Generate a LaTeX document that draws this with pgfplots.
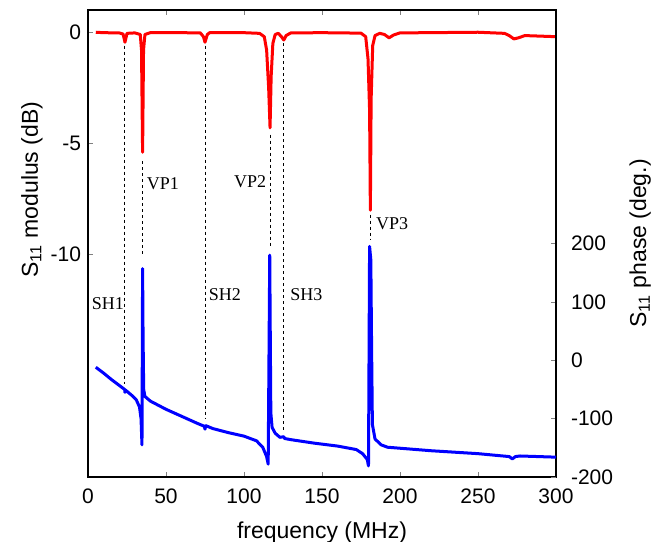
\documentclass[border=0pt]{standalone}
\usepackage{fontspec}
\setmainfont{Liberation Sans}
\newfontfamily\timesfont{Liberation Serif}
\usepackage{pgfplots}
\pgfplotsset{compat=1.18}
\begin{document}
\begin{tikzpicture}
\pgfplotsset{
  every axis/.append style={
    scale only axis, width=234pt, height=233.5pt,
    xmin=0, xmax=300,
    tick align=inside, major tick length=2.5pt,
    tick label style={font=\fontsize{10.5}{12}\selectfont},
    label style={font=\fontsize{11.5}{13}\selectfont},
    /pgf/number format/assume math mode=true,
    axis line style={line width=0.6pt},
  },
}
\begin{axis}[name=mag,
  ymin=-20, ymax=1,
  xtick={0,50,...,300}, xtick pos=both,
  xticklabel style={yshift=-2.5pt},
  ytick={-10,-5,0}, ytick pos=left,
  xlabel={frequency (MHz)},
  xlabel style={at={(axis description cs:0.5,-0.118)}, anchor=center},
  ylabel={S\textsubscript{11} modulus (dB)},
  ylabel style={at={(axis description cs:-0.12,0.615)}, anchor=center},
]
% vertical markers
\addplot[black, line width=0.5pt, dash pattern=on 1.5pt off 1.5pt] coordinates {(23.7,-0.6) (23.7,-15.8)};
\addplot[black, line width=0.5pt, dash pattern=on 1.5pt off 1.5pt] coordinates {(35,-5.8) (35,-10.1)};
\addplot[black, line width=0.5pt, dash pattern=on 1.5pt off 1.5pt] coordinates {(75,-0.6) (75,-17.4)};
\addplot[black, line width=0.5pt, dash pattern=on 1.5pt off 1.5pt] coordinates {(116.7,-4.6) (116.7,-9.7)};
\addplot[black, line width=0.5pt, dash pattern=on 1.5pt off 1.5pt] coordinates {(125.5,-0.5) (125.5,-17.9)};
\addplot[black, line width=0.5pt, dash pattern=on 1.5pt off 1.5pt] coordinates {(181,-8.2) (181,-9.3)};
% S11 modulus
\addplot[red, line width=1.5pt, line join=round] coordinates {
(5,0) (10,-0.02) (20,-0.03) (22.5,-0.08) (23.7,-0.45) (25,-0.05) (30,-0.03)
(33.5,-0.1) (34.3,-0.8) (35,-5.4) (35.6,-0.8) (36.5,-0.1) (40,-0.02)
(60,-0.02) (72,-0.03) (74,-0.2) (75,-0.45) (76.5,-0.1) (78,-0.02)
(100,-0.02) (110,-0.05) (113,-0.2) (114.5,-0.8) (115.8,-2.5) (116.7,-4.3)
(117.4,-2.0) (118.5,-0.5) (120,-0.1) (122,-0.05) (124,-0.2) (125.5,-0.35)
(127,-0.15) (130,-0.03) (150,-0.02) (175,-0.04) (178,-0.2) (179.5,-1.2)
(180.5,-3.5) (181,-8.0) (181.5,-3) (182.5,-0.6) (184,-0.15) (187,-0.05)
(190,-0.1) (193,-0.25) (196,-0.12) (200,-0.03) (250,0) (267,-0.05)
(270,-0.15) (273,-0.3) (276,-0.25) (280,-0.15) (300,-0.2)
};
\node[font=\timesfont\fontsize{9}{10}\selectfont] at (axis cs:12.8,-12.2) {SH1};
\node[font=\timesfont\fontsize{9}{10}\selectfont] at (axis cs:87.8,-11.8) {SH2};
\node[font=\timesfont\fontsize{9}{10}\selectfont] at (axis cs:140,-11.8) {SH3};
\node[font=\timesfont\fontsize{9}{10}\selectfont] at (axis cs:48,-6.8) {VP1};
\node[font=\timesfont\fontsize{9}{10}\selectfont] at (axis cs:104,-6.7) {VP2};
\node[font=\timesfont\fontsize{9}{10}\selectfont] at (axis cs:195,-8.6) {VP3};
\end{axis}
\begin{axis}[
  ymin=-200, ymax=600,
  axis x line=none, axis y line*=right,
  ytick={-200,-100,0,100,200},
  yticklabel style={xshift=4pt},
  ylabel={S\textsubscript{11} phase (deg.)},
  ylabel style={at={(axis description cs:1.18,0.5)}, anchor=center},
]
\addplot[blue, line width=1.5pt, line join=round] coordinates {
(5,-12) (10,-22) (15,-33) (20,-43) (23.5,-50) (23.7,-55) (24,-51) (28,-60)
(31,-68) (33,-80) (34,-100) (34.6,-145) (35,157) (35.3,40) (35.7,-50)
(36.5,-62) (40,-70) (50,-84) (60,-96) (70,-108) (74.5,-113) (75,-118)
(75.5,-112) (80,-117) (90,-124) (100,-130) (108,-138) (112,-149)
(114.5,-165) (115.5,-178) (116.5,180) (116.8,60) (117.2,-90) (118,-115)
(120,-125) (123,-132) (125.5,-131) (126,-134) (130,-136) (145,-142)
(160,-147) (172,-153) (176,-160) (179,-170) (179.8,-181) (180.5,195)
(181.3,172) (181.8,20) (182.3,-110) (184,-135) (188,-145) (192,-149)
(220,-155) (250,-160) (270,-165) (272,-169) (274,-165) (277,-164) (300,-166)
};
\end{axis}
\pgfresetboundingbox
\path[use as bounding box] ([xshift=-44pt,yshift=-32pt]mag.south west) rectangle ([xshift=53.5pt,yshift=5pt]mag.north east);
\end{tikzpicture}
\end{document}
